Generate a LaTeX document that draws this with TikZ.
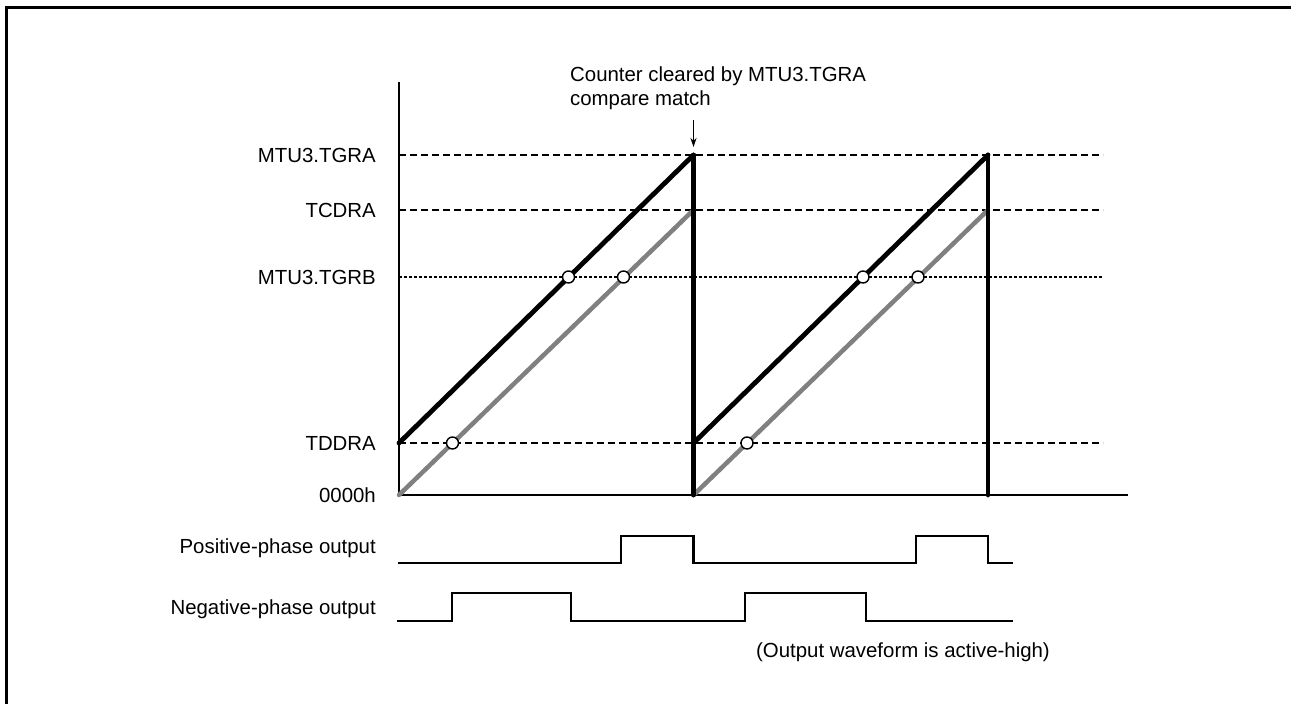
\documentclass[tikz,border=0pt]{standalone}
\usepackage{fontspec}
\setmainfont{Liberation Sans}
\usetikzlibrary{arrows.meta}
\definecolor{rampgray}{RGB}{128,128,128}
\begin{document}
\begin{tikzpicture}[x=1pt,y=-1pt,
  lbl/.style={anchor=base east, inner sep=0pt, font=\fontsize{20.4}{23.3}\selectfont},
  txt/.style={inner sep=0pt, font=\fontsize{20.4}{23.3}\selectfont},
  frame/.style={line width=3pt},
  axis/.style={line width=1.5pt},
  level/.style={line width=1.5pt, dash pattern=on 7pt off 4pt},
  finelevel/.style={line width=1.4pt, dash pattern=on 3pt off 2pt},
  ramp/.style={line width=4.8pt, line cap=round},
  gramp/.style={line width=4.5pt, draw=rampgray, line cap=round},
  drop/.style={line width=4.8pt, line cap=round},
  wave/.style={line width=2.7pt},
  hit/.style={circle, draw, fill=white, line width=1.4pt, minimum size=12pt, inner sep=0pt}
]
\useasboundingbox (0,0) rectangle (1291,704);

% outer frame (top and left edges)
\draw[frame] (6,704) -- (6,7) -- (1291,7);

% axis origin, cycle boundaries and register levels
\coordinate (O)   at (399,495);
\coordinate (Ytop) at (399,82);
\coordinate (Xend) at (1128,495);
\coordinate (T1)  at (693.5,495);
\coordinate (T2)  at (988,495);

% register level lines
\coordinate (La0) at (399,155);   \coordinate (La1) at (1103,155);
\coordinate (Lc0) at (399,210);   \coordinate (Lc1) at (1103,210);
\coordinate (Lb0) at (399,277);   \coordinate (Lb1) at (1103,277);
\coordinate (Ld0) at (399,443);   \coordinate (Ld1) at (1103,443);
\draw[level] (La0) -- (La1);
\draw[level] (Lc0) -- (Lc1);
\draw[finelevel] (Lb0) -- (Lb1);
\draw[level] (Ld0) -- (Ld1);

% axes
\draw[axis] (Ytop) -- (O) -- (Xend);

% level labels
\node[lbl] (lA) at (376,162.5) {MTU3.TGRA};
\node[lbl] (lC) at (376,217.5) {TCDRA};
\node[lbl] (lB) at (376,284.5) {MTU3.TGRB};
\node[lbl] (lD) at (376,450.5) {TDDRA};
\node[lbl] (lO) at (376,502.5) {0000h};

% gray ramps (0000h up to TCDRA)
\coordinate (G1s) at (399,495);   \coordinate (G1e) at (693.5,210);
\coordinate (G2s) at (693.5,495); \coordinate (G2e) at (988,210);
\draw[gramp] (G1s) -- (G1e);
\draw[gramp] (G2s) -- (G2e);

% black ramps (TDDRA up to MTU3.TGRA) and counter clears
\coordinate (K1s) at (399,443);   \coordinate (K1e) at (693.5,155);
\coordinate (K2s) at (693.5,443); \coordinate (K2e) at (988,155);
\draw[ramp] (K1s) -- (K1e);
\draw[ramp] (K2s) -- (K2e);
\draw[drop] (K1e) -- (T1);
\draw[drop] (K2e) -- (T2);

% compare-match points
\node[hit] (h1) at (568.5,277) {};
\node[hit] (h2) at (623.5,277) {};
\node[hit] (h3) at (452.5,443) {};
\node[hit] (h4) at (863,277) {};
\node[hit] (h5) at (918,277) {};
\node[hit] (h6) at (747,443) {};

% counter-clear annotation
\node[txt, anchor=base west] (c1) at (570,81.7) {Counter cleared by MTU3.TGRA};
\node[txt, anchor=base west] (c2) at (570,105) {compare match};
\coordinate (arS) at (693.5,120);
\coordinate (arE) at (693.5,147);
\draw[line width=1.3pt, -{Stealth[length=9pt,width=6pt]}] (arS) -- (arE);

% output waveforms
\node[lbl] (pp) at (376,553) {Positive-phase output};
\node[lbl] (np) at (376,614) {Negative-phase output};
\draw[wave] (398,563) -- (621,563) -- (621,536) -- (693.5,536) -- (693.5,563)
  -- (916,563) -- (916,536) -- (988,536) -- (988,563) -- (1013,563);
\draw[wave] (397,621) -- (452,621) -- (452,593) -- (571,593) -- (571,621)
  -- (745,621) -- (745,593) -- (866,593) -- (866,621) -- (1013,621);

\node[txt, anchor=base] (note) at (903,657) {(Output waveform is active-high)};
\end{tikzpicture}
\end{document}
